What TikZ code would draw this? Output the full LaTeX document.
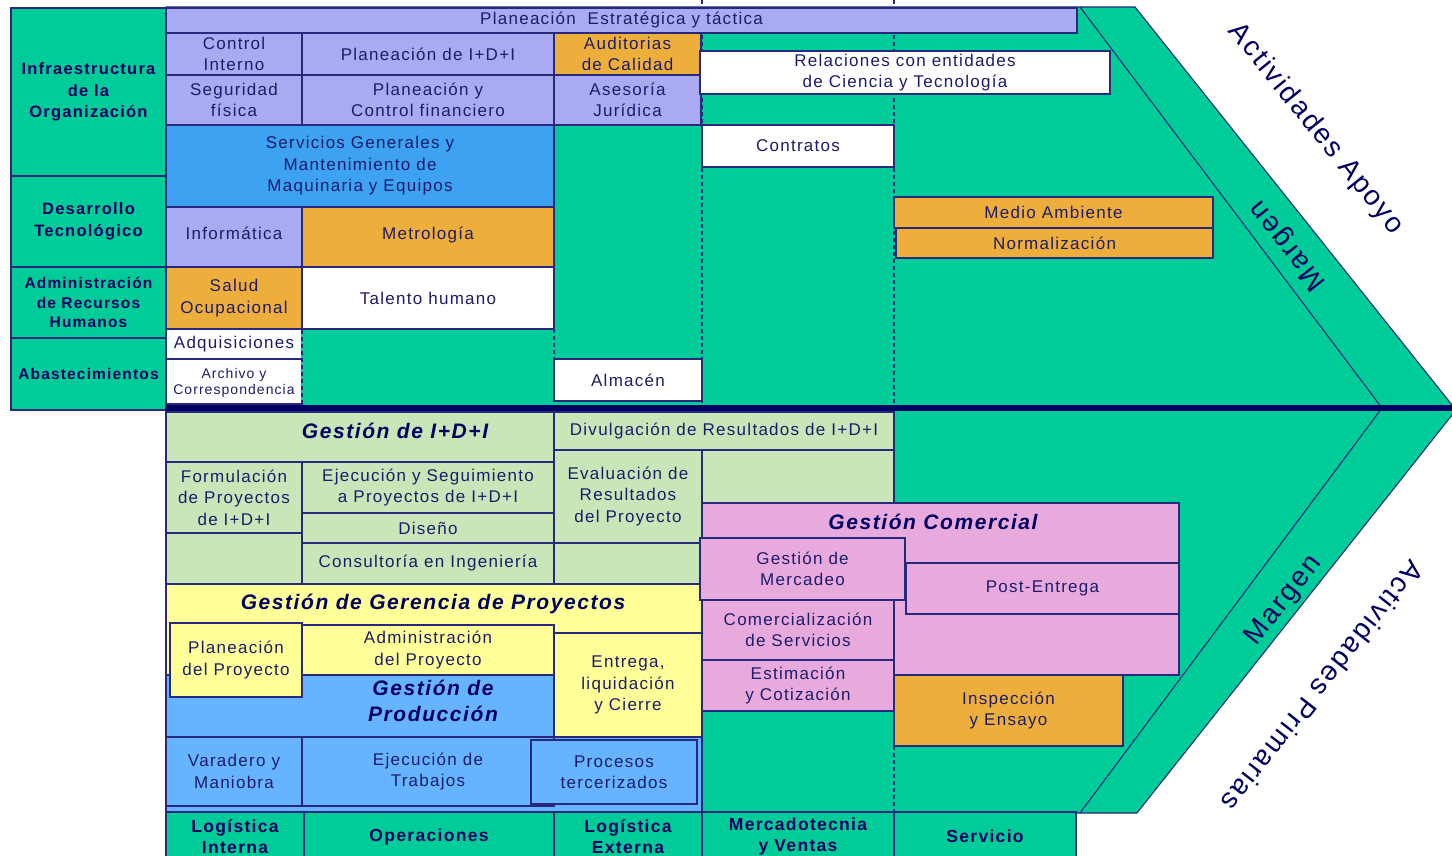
\documentclass[tikz,border=0pt]{standalone}
\usepackage{fontspec}
\setmainfont{Liberation Sans}[LetterSpace=7.5]

\definecolor{vgreen}{HTML}{00CC99}
\definecolor{lav}{HTML}{AAAAF2}
\definecolor{ochre}{HTML}{EEAE3C}
\definecolor{sky}{HTML}{3DA2F2}
\definecolor{skylt}{HTML}{66B4FF}
\definecolor{mint}{HTML}{C8E6B8}
\definecolor{lemon}{HTML}{FFFF99}
\definecolor{rose}{HTML}{E8AADC}
\definecolor{edge}{HTML}{28287C}
\definecolor{ink}{HTML}{1C1C6A}
\definecolor{bar}{HTML}{000060}

\newcommand\cellfont{\fontsize{17}{21.5}\selectfont}
\newcommand\smallcellfont{\fontsize{14}{16.5}\selectfont}
\newcommand\sidefont{\fontsize{16.5}{21.5}\selectfont\bfseries}
\newcommand\sidesmallfont{\fontsize{15.5}{19.5}\selectfont\bfseries}
\newcommand\footfont{\fontsize{17.5}{21}\selectfont\bfseries}
\newcommand\headfont{\fontsize{21}{26}\selectfont\bfseries\itshape}
\newcommand\diagfont{\fontsize{28}{32}\selectfont}

\tikzset{
  box/.style={draw=edge, line width=1.1pt, inner sep=0pt, align=center, text=ink, font=\cellfont},
  cell/.style n args={4}{at={({(#1+#3)/2},{(#2+#4)/2})},
    minimum width={(#3-#1)*1pt}, minimum height={(#4-#2)*1pt}},
  side/.style={box, fill=vgreen, font=\sidefont, text=bar},
  foot/.style={box, fill=vgreen, font=\footfont, text=bar},
  head/.style={text=bar, font=\headfont, inner sep=0pt, align=center},
  guide/.style={draw=edge, line width=1.1pt, dash pattern=on 4pt off 3pt},
  diag/.style={text=bar, font=\diagfont, inner sep=0pt},
}

\begin{document}
\begin{tikzpicture}[x=1pt, y=-1pt]
\useasboundingbox (0,0) rectangle (1452,856);
\fill[white] (0,0) rectangle (1452,856);

% chevron body
\coordinate (tl) at (166,7);
\coordinate (to) at (1135,7);
\coordinate (tip) at (1456,410);
\coordinate (bo) at (1137,813);
\coordinate (bl) at (166,813);
\coordinate (ti) at (1080,7);
\coordinate (mi) at (1382,408);
\coordinate (bi) at (1080,813);
\draw[edge, line width=1.1pt, fill=vgreen] (tl) -- (to) -- (tip) -- (bo) -- (bl) -- cycle;
\draw[edge, line width=1.1pt] (ti) -- (mi) -- (bi);

% column guides
\coordinate (gA1) at (702,0);   \coordinate (gA2) at (702,407);
\coordinate (gB1) at (894,0);   \coordinate (gB2) at (894,407);
\coordinate (gC1) at (554,329); \coordinate (gC2) at (554,359);
\coordinate (gD1) at (894,746); \coordinate (gD2) at (894,812);
\draw[guide] (gA1) -- (gA2);
\draw[guide] (gB1) -- (gB2);
\draw[guide] (gC1) -- (gC2);
\draw[guide] (gD1) -- (gD2);

% support activity labels
\node[side, cell={11}{8}{166}{176}] (infra) {Infraestructura\\de la\\Organización};
\node[side, cell={11}{176}{166}{267}] (desa) {Desarrollo\\Tecnológico};
\node[side, font=\sidesmallfont, cell={11}{267}{166}{338}] (arh) {Administración\\de Recursos\\Humanos};
\node[side, font=\sidesmallfont, cell={11}{338}{166}{410}] (abas) {Abastecimientos};

% support activities
\node[box, fill=lav, cell={166}{8}{1077}{33}] (pest) {Planeación~ Estratégica y táctica};
\node[box, fill=lav, cell={166}{33}{302}{75}] (cint) {Control\\Interno};
\node[box, fill=lav, cell={302}{33}{554}{75}] (pidi) {Planeación de I+D+I};
\node[box, fill=ochre, cell={554}{33}{701}{75}] (audi) {Auditorias\\de Calidad};
\node[box, fill=lav, cell={166}{75}{302}{125}] (segu) {Seguridad\\física};
\node[box, fill=lav, cell={302}{75}{554}{125}] (pcf) {Planeación y\\Control financiero};
\node[box, fill=lav, cell={554}{75}{701}{125}] (aseso) {Asesoría\\Jurídica};
\node[box, fill=white, cell={700}{51}{1110}{94}] (rel) {Relaciones con entidades\\de Ciencia y Tecnología};
\node[box, fill=sky, cell={166}{125}{554}{207}] (serv) {Servicios Generales y\\Mantenimiento de\\Maquinaria y Equipos};
\node[box, fill=white, cell={702}{125}{894}{167}] (contr) {Contratos};
\node[box, fill=lav, cell={166}{207}{302}{267}, text depth=8pt] (infor) {Informática};
\node[box, fill=ochre, cell={302}{207}{554}{267}, text depth=8pt] (metro) {Metrología};
\node[box, fill=ochre, cell={894}{197}{1213}{228}] (medio) {Medio Ambiente};
\node[box, fill=ochre, cell={896}{228}{1213}{258}] (norma) {Normalización};
\node[box, fill=ochre, cell={166}{267}{302}{329}] (salud) {Salud\\Ocupacional};
\node[box, fill=white, cell={302}{267}{554}{329}] (tale) {Talento humano};
\node[box, fill=white, cell={166}{329}{302}{359}] (adqu) {Adquisiciones};
\node[box, fill=white, font=\smallcellfont, cell={166}{359}{302}{404}, text depth=0pt] (arch) {Archivo y\\Correspondencia};
\node[box, fill=white, cell={554}{359}{702}{401}] (alma) {Almacén};
% dashed right edge of the supply cells
\coordinate (gE1) at (302,330); \coordinate (gE2) at (302,404);
\draw[vgreen, line width=1.3pt] (gE1) -- (gE2);
\draw[guide] (gE1) -- (gE2);

% divider between support and primary activities
\coordinate (barL) at (166,408);
\coordinate (barR) at (1452,408);
\draw[bar, line width=6.5pt] (barL) -- (barR);

% I+D+I management
\node[box, fill=mint, cell={166}{412}{554}{462}] (gidi) {};
\node[head] (giditxt) at (395,431) {Gestión de I+D+I};
\node[box, fill=mint, cell={554}{412}{894}{450}] (divu) {Divulgación de Resultados de I+D+I};
\node[box, fill=mint, cell={702}{450}{894}{503}] (mgapA) {};
\node[box, fill=mint, cell={166}{462}{302}{533}] (formu) {Formulación\\de Proyectos\\de I+D+I};
\node[box, fill=mint, cell={166}{533}{302}{584}] (mgapB) {};
\node[box, fill=mint, cell={302}{462}{554}{513}] (ejsg) {Ejecución y Seguimiento\\a Proyectos de I+D+I};
\node[box, fill=mint, cell={302}{513}{554}{543}] (dise) {Diseño};
\node[box, fill=mint, cell={302}{543}{554}{584}] (cons) {Consultoría en Ingeniería};
\node[box, fill=mint, cell={554}{450}{702}{543}] (eval) {Evaluación de\\Resultados\\del Proyecto};
\node[box, fill=mint, cell={554}{543}{702}{584}] (mgapC) {};

% project management
\node[box, fill=lemon, cell={166}{584}{702}{675}] (geren) {};
\node[head] (gerentxt) at (433,604) {Gestión de Gerencia de Proyectos};
\node[box, fill=lemon, cell={302}{625}{554}{675}] (admp) {Administración\\del Proyecto};
\node[box, fill=lemon, cell={554}{633}{702}{737}] (entr) {Entrega,\\liquidación\\y Cierre};

% production management
\node[box, fill=skylt, cell={166}{737}{702}{812}] (prodb) {};
\node[box, fill=skylt, cell={166}{675}{554}{737}] (prod) {};
\node[head] (prodtxt) at (433,701) {Gestión de\\Producción};
\node[box, fill=lemon, cell={170}{623}{302}{697}] (plpr) {Planeación\\del Proyecto};
\node[box, fill=skylt, cell={166}{737}{302}{806}] (vara) {Varadero y\\Maniobra};
\node[box, fill=skylt, cell={302}{737}{554}{806}] (ejtr) {Ejecución de\\Trabajos};
\node[box, fill=skylt, cell={531}{740}{697}{804}] (terc) {Procesos\\tercerizados};

% commercial management
\node[box, fill=rose, cell={702}{503}{1179}{675}] (comer) {};
\node[head] (comertxt) at (933,522) {Gestión Comercial};
\node[box, fill=ochre, cell={894}{675}{1123}{746}] (insp) {Inspección\\y Ensayo};
\node[box, fill=rose, cell={700}{538}{905}{600}] (merc) {Gestión de\\Mercadeo};
\node[box, fill=rose, cell={906}{563}{1179}{614}] (post) {Post-Entrega};
\node[box, fill=rose, cell={702}{600}{894}{660}] (cser) {Comercialización\\de Servicios};
\node[box, fill=rose, cell={702}{660}{894}{711}] (esti) {Estimación\\y Cotización};

% primary activity labels
\node[foot, cell={166}{812}{304}{861}] (lint) {Logística\\Interna};
\node[foot, cell={304}{812}{554}{861}] (oper) {Operaciones};
\node[foot, cell={554}{812}{702}{861}] (lext) {Logística\\Externa};
\node[foot, cell={702}{812}{894}{861}] (mkt) {Mercadotecnia\\y Ventas};
\node[foot, cell={894}{812}{1076}{861}] (serc) {Servicio};

% chevron captions
\node[diag, rotate=-51] (apoyo) at (1316,129) {Actividades Apoyo};
\node[diag, rotate=128.4] (margA) at (1288,245) {Margen};
\node[diag, rotate=52] (margB) at (1284,601) {Margen};
\node[diag, rotate=232] (prim) at (1323,686) {Actividades Primarias};
\end{tikzpicture}
\end{document}
